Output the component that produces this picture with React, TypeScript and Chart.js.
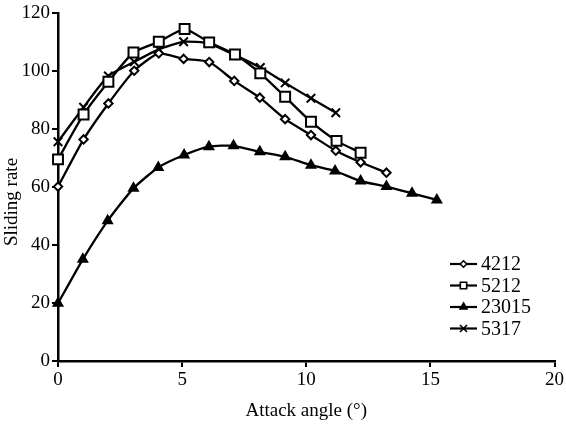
import React, { useEffect, useRef } from "react";
import { Chart, registerables } from "chart.js";
import { drawPoint } from "chart.js/helpers";

Chart.register(...registerables);

const seriesNames = ["4212", "5212", "23015", "5317"];

const x4212 = [0, 1.03, 2.03, 3.07, 4.06, 5.06, 6.09, 7.1, 8.13, 9.15, 10.19, 11.19, 12.19, 13.23];
const y4212 = [60.2, 76.5, 88.9, 100.2, 106.2, 104.3, 103.2, 96.7, 90.9, 83.5, 78.0, 72.6, 68.6, 65.0];

const x5212 = [0, 1.03, 2.03, 3.04, 4.06, 5.1, 6.09, 7.13, 8.15, 9.15, 10.19, 11.22, 12.19];
const y5212 = [69.6, 85.1, 96.4, 106.5, 110.2, 114.6, 110.0, 105.8, 99.3, 91.2, 82.6, 76.0, 71.9];

const x23015 = [0, 1.0, 2.0, 3.04, 4.04, 5.08, 6.08, 7.07, 8.13, 9.15, 10.19, 11.16, 12.19, 13.23, 14.26, 15.26];
const y23015 = [19.9, 35.1, 48.4, 59.6, 66.8, 71.1, 74.0, 74.3, 72.2, 70.5, 67.6, 65.6, 62.1, 60.2, 57.9, 55.6];

const x5317 = [0, 1.03, 2.03, 3.07, 4.06, 5.06, 6.09, 7.13, 8.15, 9.15, 10.19, 11.19];
const y5317 = [75.7, 87.6, 98.4, 103.3, 107.6, 110.2, 109.6, 105.6, 101.3, 96.0, 90.7, 85.7];

const xTitle = "Attack angle (°)";
const yTitle = "Sliding rate";

const FONT = "'Liberation Serif', 'Times New Roman', serif";
const WEIGHT = "normal";

const toPts = (xs: number[], ys: number[]) => xs.map((x, i) => ({ x, y: ys[i] }));

const markerStyles = [
  { pointStyle: "rectRot", radius: 4.2, bg: "#fff", legendRadius: 3.2 },
  { pointStyle: "rect", radius: 7, bg: "#fff", legendRadius: 4.5 },
  { pointStyle: "triangle", radius: 5, bg: "#000", legendRadius: 4 },
  { pointStyle: "crossRot", radius: 6, bg: "#000", legendRadius: 5 },
];

const legendPlugin = {
  id: "customLegend",
  afterDraw(chart: any) {
    const ctx = chart.ctx;
    ctx.save();
    // y-axis title
    ctx.fillStyle = "#000";
    ctx.font = `${WEIGHT} 19px ${FONT}`;
    ctx.textAlign = "center";
    ctx.textBaseline = "middle";
    ctx.save();
    ctx.translate(12, 202);
    ctx.rotate(-Math.PI / 2);
    ctx.fillText(yTitle, 0, 0);
    ctx.restore();
    chart.data.datasets.forEach((ds: any, i: number) => {
      const y = 264 + i * 21.5;
      ctx.strokeStyle = "#000";
      ctx.lineWidth = 2.2;
      ctx.beginPath();
      ctx.moveTo(450, y);
      ctx.lineTo(477, y);
      ctx.stroke();
      const m = markerStyles[i];
      ctx.fillStyle = m.bg;
      ctx.strokeStyle = "#000";
      ctx.lineWidth = 1.6;
      drawPoint(ctx, { pointStyle: m.pointStyle as any, radius: m.legendRadius, rotation: 0, borderWidth: 1.6 } as any, 463.5, y);
      ctx.fillStyle = "#000";
      ctx.font = `${WEIGHT} 20px ${FONT}`;
      ctx.textAlign = "left";
      ctx.textBaseline = "middle";
      ctx.fillText(ds.label, 481, y + 1);
    });
    ctx.restore();
  },
};

export default function App() {
  const ref = useRef<HTMLCanvasElement | null>(null);
  useEffect(() => {
    if (!ref.current) return;
    const data = [toPts(x4212, y4212), toPts(x5212, y5212), toPts(x23015, y23015), toPts(x5317, y5317)];
    const font = { family: FONT, size: 19, weight: WEIGHT as any };
    const chart = new Chart(ref.current, {
      type: "line",
      data: {
        datasets: data.map((d, i) => ({
          label: seriesNames[i],
          data: d,
          borderColor: "#000",
          borderWidth: 2.3,
          tension: 0.2,
          pointStyle: markerStyles[i].pointStyle as any,
          pointRadius: markerStyles[i].radius,
          pointBackgroundColor: markerStyles[i].bg,
          pointBorderColor: "#000",
          pointBorderWidth: 2,
          clip: false as any,
          fill: false,
        })),
      },
      options: {
        animation: false,
        responsive: false,
        layout: { padding: { top: 13, right: 7, left: 0, bottom: 0 } },
        plugins: { legend: { display: false }, tooltip: { enabled: false } },
        scales: {
          x: {
            type: "linear",
            min: 0,
            max: 20,
            ticks: { stepSize: 5, color: "#000", font, padding: 2, maxRotation: 0 },
            grid: { display: true, drawOnChartArea: false, drawTicks: true, tickLength: 6, color: "#000", lineWidth: 2 },
            border: { display: true, color: "#000", width: 2.5 },
            title: { display: true, text: xTitle, color: "#000", font, padding: { top: 0, bottom: 7 } },
            afterFit: (s: any) => { s.height = 68; },
          },
          y: {
            type: "linear",
            min: 0,
            max: 120,
            ticks: { stepSize: 20, color: "#000", font, padding: 2 },
            grid: { display: true, drawOnChartArea: false, drawTicks: true, tickLength: 6, color: "#000", lineWidth: 2 },
            border: { display: true, color: "#000", width: 2.5 },
            title: { display: false, text: yTitle },
            afterFit: (s: any) => { s.width = 58; },
          },
        },
      },
      plugins: [legendPlugin],
    });
    return () => chart.destroy();
  }, []);
  return (
    <div style={{ position: "absolute", left: 0, top: 0, width: 566, height: 429, background: "#fff" }}>
      <canvas ref={ref} width={566} height={429} style={{ display: "block" }} />
    </div>
  );
}
